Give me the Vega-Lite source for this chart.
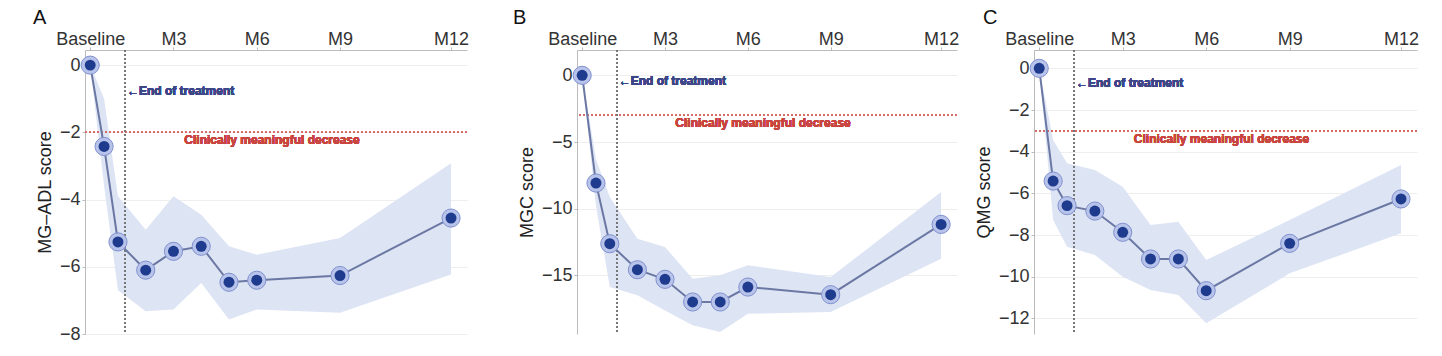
{
  "$schema": "https://vega.github.io/schema/vega-lite/v6.json",
  "background": "white",
  "padding": {"left": 33, "top": 8, "right": 0, "bottom": 0},
  "config": {
    "font": "Liberation Sans",
    "view": {"stroke": null},
    "axis": {
      "labelFont": "Liberation Sans", "labelFontSize": 18, "labelColor": "#333333",
      "titleFont": "Liberation Sans", "titleFontSize": 18, "titleFontWeight": "normal", "titleColor": "#222222",
      "domainColor": "#bbbbbb", "tickColor": "#bbbbbb", "tickSize": 3, "labelFlush": false, "labelOverlap": false, "labelBound": false
    },
    "title": {"fontSize": 20, "fontWeight": "normal", "anchor": "start", "frame": "group", "offset": 2, "color": "#111111"}
  },
  "spacing": 16,
  "hconcat": [
    {
      "bounds": "flush",
      "spacing": 110,
      "hconcat": [
        {
          "title": {"text": "A", "dx": -52},
          "width": 382, "height": 284,
          "data": {"values": [
            {"week": 0, "score": 0, "lo": 0, "hi": 0},
            {"week": 2, "score": -2.42, "lo": -3.6, "hi": -1.0},
            {"week": 4, "score": -5.26, "lo": -6.7, "hi": -3.9},
            {"week": 8, "score": -6.10, "lo": -7.32, "hi": -4.9},
            {"week": 12, "score": -5.54, "lo": -7.27, "hi": -3.9},
            {"week": 16, "score": -5.39, "lo": -6.48, "hi": -4.45},
            {"week": 20, "score": -6.46, "lo": -7.57, "hi": -5.39},
            {"week": 24, "score": -6.40, "lo": -7.27, "hi": -5.64},
            {"week": 36, "score": -6.26, "lo": -7.37, "hi": -5.14},
            {"week": 52, "score": -4.55, "lo": -6.23, "hi": -2.92}
          ]},
          "encoding": {
            "x": {"field": "week", "type": "quantitative", "scale": {"domain": [-0.75, 54.3], "nice": false, "zero": false},
              "axis": {"orient": "top", "title": null, "values": [0, 12, 24, 36, 52], "grid": false, "labelPadding": 3, "labelBaseline": "alphabetic",
                "labelExpr": "datum.value == 0 ? 'Baseline' : datum.value == 52 ? 'M12' : 'M' + (datum.value / 4)"}},
            "y": {"type": "quantitative", "scale": {"domain": [-8, 0.45], "nice": false, "zero": false},
              "axis": {"title": "MG–ADL score", "values": [0, -2, -4, -6, -8], "grid": true, "gridColor": "#eeeeee", "titlePadding": 5, "labelPadding": 2}}
          },
          "layer": [
            {"mark": {"type": "area", "color": "#dde4f4", "opacity": 1}, "encoding": {"y": {"field": "lo"}, "y2": {"field": "hi"}}},
            {"mark": {"type": "rule", "color": "#d66a66", "strokeDash": [2, 2], "strokeWidth": 1.2}, "encoding": {"x": null, "y": {"datum": -2}}},
            {"mark": {"type": "rule", "color": "#777777", "strokeDash": [2, 2], "strokeWidth": 1.2}, "encoding": {"x": {"datum": 5}, "y": null}},
            {"mark": {"type": "line", "color": "#6b78a3", "strokeWidth": 2}, "encoding": {"y": {"field": "score"}}},
            {"mark": {"type": "circle", "size": 330, "fill": "#b7c3ea", "stroke": "#8191cd", "strokeWidth": 1, "opacity": 1}, "encoding": {"y": {"field": "score"}}},
            {"mark": {"type": "circle", "size": 120, "color": "#1f3b8d", "opacity": 1}, "encoding": {"y": {"field": "score"}}},
            {"mark": {"type": "text", "text": "←End of treatment", "align": "left", "baseline": "middle", "dx": 2, "fontSize": 12, "fontWeight": "bold", "color": "#3d4687"}, "encoding": {"x": {"datum": 5}, "y": {"datum": -0.76}}},
            {"mark": {"type": "text", "text": "Clinically meaningful decrease", "align": "center", "baseline": "middle", "dy": 8, "fontSize": 12, "fontWeight": "bold", "color": "#c9453f"}, "encoding": {"x": {"datum": 26.2}, "y": {"datum": -2}}}
          ]
        },
        {
          "title": {"text": "B", "dx": -64},
          "width": 380, "height": 284,
          "data": {"values": [
            {"week": 0, "score": 0, "lo": 0, "hi": 0},
            {"week": 2, "score": -8.08, "lo": -9.8, "hi": -6.3},
            {"week": 4, "score": -12.63, "lo": -15.88, "hi": -9.13},
            {"week": 8, "score": -14.58, "lo": -16.5, "hi": -12.25},
            {"week": 12, "score": -15.3, "lo": -17.63, "hi": -12.88},
            {"week": 16, "score": -17.0, "lo": -18.75, "hi": -15.25},
            {"week": 20, "score": -17.0, "lo": -19.25, "hi": -15.0},
            {"week": 24, "score": -15.88, "lo": -17.88, "hi": -14.25},
            {"week": 36, "score": -16.45, "lo": -17.75, "hi": -15.13},
            {"week": 52, "score": -11.18, "lo": -13.75, "hi": -8.75}
          ]},
          "encoding": {
            "x": {"field": "week", "type": "quantitative", "scale": {"domain": [-0.75, 54.3], "nice": false, "zero": false},
              "axis": {"orient": "top", "title": null, "values": [0, 12, 24, 36, 52], "grid": false, "labelPadding": 3, "labelBaseline": "alphabetic",
                "labelExpr": "datum.value == 0 ? 'Baseline' : datum.value == 52 ? 'M12' : 'M' + (datum.value / 4)"}},
            "y": {"type": "quantitative", "scale": {"domain": [-19.4, 1.9], "nice": false, "zero": false},
              "axis": {"title": "MGC score", "values": [0, -5, -10, -15], "grid": true, "gridColor": "#eeeeee", "titlePadding": 5, "labelPadding": 2}}
          },
          "layer": [
            {"mark": {"type": "area", "color": "#dde4f4", "opacity": 1}, "encoding": {"y": {"field": "lo"}, "y2": {"field": "hi"}}},
            {"mark": {"type": "rule", "color": "#d66a66", "strokeDash": [2, 2], "strokeWidth": 1.2}, "encoding": {"x": null, "y": {"datum": -3}}},
            {"mark": {"type": "rule", "color": "#777777", "strokeDash": [2, 2], "strokeWidth": 1.2}, "encoding": {"x": {"datum": 5}, "y": null}},
            {"mark": {"type": "line", "color": "#6b78a3", "strokeWidth": 2}, "encoding": {"y": {"field": "score"}}},
            {"mark": {"type": "circle", "size": 330, "fill": "#b7c3ea", "stroke": "#8191cd", "strokeWidth": 1, "opacity": 1}, "encoding": {"y": {"field": "score"}}},
            {"mark": {"type": "circle", "size": 120, "color": "#1f3b8d", "opacity": 1}, "encoding": {"y": {"field": "score"}}},
            {"mark": {"type": "text", "text": "←End of treatment", "align": "left", "baseline": "middle", "dx": 2, "fontSize": 12, "fontWeight": "bold", "color": "#3d4687"}, "encoding": {"x": {"datum": 5}, "y": {"datum": -0.45}}},
            {"mark": {"type": "text", "text": "Clinically meaningful decrease", "align": "center", "baseline": "middle", "dy": 8, "fontSize": 12, "fontWeight": "bold", "color": "#c9453f"}, "encoding": {"x": {"datum": 26.2}, "y": {"datum": -3}}}
          ]
        }
      ]
    },
    {
      "title": {"text": "C", "dx": -51},
      "width": 383, "height": 284,
      "data": {"values": [
        {"week": 0, "score": 0, "lo": 0, "hi": 0},
        {"week": 2, "score": -5.41, "lo": -7.28, "hi": -3.44},
        {"week": 4, "score": -6.59, "lo": -8.56, "hi": -4.56},
        {"week": 8, "score": -6.85, "lo": -8.96, "hi": -4.88},
        {"week": 12, "score": -7.87, "lo": -10.0, "hi": -5.68},
        {"week": 16, "score": -9.15, "lo": -10.64, "hi": -7.52},
        {"week": 20, "score": -9.15, "lo": -10.88, "hi": -7.36},
        {"week": 24, "score": -10.67, "lo": -12.24, "hi": -9.2},
        {"week": 36, "score": -8.4, "lo": -9.84, "hi": -7.28},
        {"week": 52, "score": -6.27, "lo": -7.92, "hi": -4.64}
      ]},
      "encoding": {
        "x": {"field": "week", "type": "quantitative", "scale": {"domain": [-0.75, 54.3], "nice": false, "zero": false},
          "axis": {"orient": "top", "title": null, "values": [0, 12, 24, 36, 52], "grid": false, "labelPadding": 3, "labelBaseline": "alphabetic",
            "labelExpr": "datum.value == 0 ? 'Baseline' : datum.value == 52 ? 'M12' : 'M' + (datum.value / 4)"}},
        "y": {"type": "quantitative", "scale": {"domain": [-12.75, 0.88], "nice": false, "zero": false},
          "axis": {"title": "QMG score", "values": [0, -2, -4, -6, -8, -10, -12], "grid": true, "gridColor": "#eeeeee", "titlePadding": 5, "labelPadding": 2}}
      },
      "layer": [
        {"mark": {"type": "area", "color": "#dde4f4", "opacity": 1}, "encoding": {"y": {"field": "lo"}, "y2": {"field": "hi"}}},
        {"mark": {"type": "rule", "color": "#d66a66", "strokeDash": [2, 2], "strokeWidth": 1.2}, "encoding": {"x": null, "y": {"datum": -3}}},
        {"mark": {"type": "rule", "color": "#777777", "strokeDash": [2, 2], "strokeWidth": 1.2}, "encoding": {"x": {"datum": 5}, "y": null}},
        {"mark": {"type": "line", "color": "#6b78a3", "strokeWidth": 2}, "encoding": {"y": {"field": "score"}}},
        {"mark": {"type": "circle", "size": 330, "fill": "#b7c3ea", "stroke": "#8191cd", "strokeWidth": 1, "opacity": 1}, "encoding": {"y": {"field": "score"}}},
        {"mark": {"type": "circle", "size": 120, "color": "#1f3b8d", "opacity": 1}, "encoding": {"y": {"field": "score"}}},
        {"mark": {"type": "text", "text": "←End of treatment", "align": "left", "baseline": "middle", "dx": 2, "fontSize": 12, "fontWeight": "bold", "color": "#3d4687"}, "encoding": {"x": {"datum": 5}, "y": {"datum": -0.69}}},
        {"mark": {"type": "text", "text": "Clinically meaningful decrease", "align": "center", "baseline": "middle", "dy": 8, "fontSize": 12, "fontWeight": "bold", "color": "#c9453f"}, "encoding": {"x": {"datum": 26.2}, "y": {"datum": -3}}}
      ]
    }
  ]
}
